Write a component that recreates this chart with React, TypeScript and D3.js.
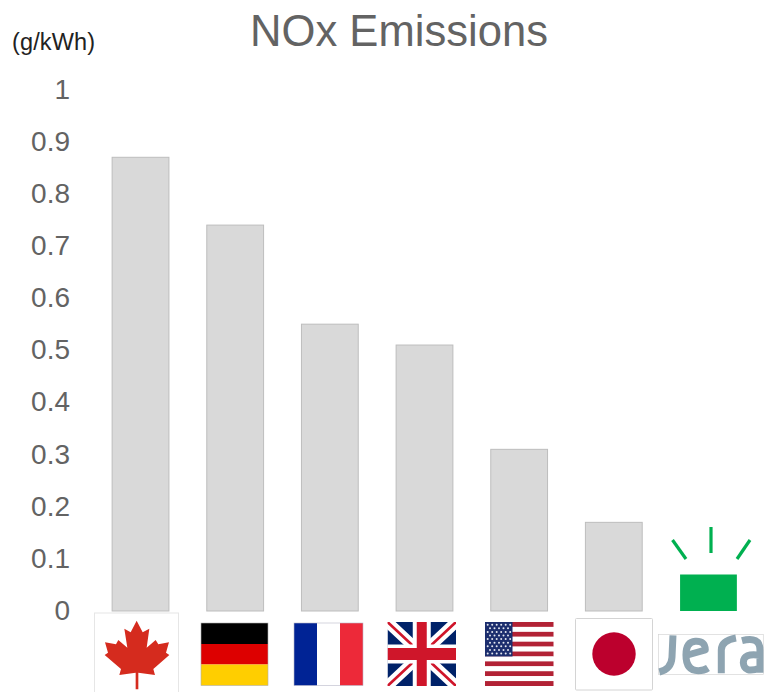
import React from "react";
import * as d3 from "d3";

const categories = ["Canada", "Germany", "France", "UK", "USA", "Japan", "JERA"];
const noxValues = [0.87, 0.74, 0.55, 0.51, 0.31, 0.17, 0.07];
const tickValues = [0, 0.1, 0.2, 0.3, 0.4, 0.5, 0.6, 0.7, 0.8, 0.9, 1];
const titleText = "NOx Emissions";
const unitText = "(g/kWh)";

const WIDTH = 767;
const HEIGHT = 692;
const GREY = "#d9d9d9";
const GREEN = "#00b050";
const TEXT_GREY = "#636363";
const FONT = "'Liberation Sans', Arial, sans-serif";

const mapleLeaf = [
  [140, 62], [158, 97], [178, 86], [170, 143], [197, 120], [205, 133], [237, 127], [228, 158], [238, 165],
  [190, 207], [195, 225], [145, 218], [145, 268], [137, 268], [137, 218], [88, 225], [93, 207], [44, 165],
  [54, 158], [45, 127], [78, 133], [85, 120], [112, 143], [103, 86], [122, 97],
];

const usStripes = d3.range(13);
const usStarRows = d3.range(9);

function Canada() {
  return (
    <g>
      <rect x={94.5} y={613} width={84} height={80} fill="#fff" stroke="#e6e6e6" />
      <polygon transform="translate(90,600) scale(0.3333)" points={mapleLeaf.join(" ")} fill="#d52b1e" />
    </g>
  );
}

function Germany() {
  return (
    <g>
      <rect x={201} y={623} width={67} height={21} fill="#000" />
      <rect x={201} y={644} width={67} height={20.5} fill="#dd0000" />
      <rect x={201} y={664.5} width={67} height={21} fill="#ffce00" />
      <rect x={201} y={623} width={67} height={62.5} fill="none" stroke="#b0b0b0" strokeWidth={0.6} />
    </g>
  );
}

function France() {
  return (
    <g>
      <rect x={294} y={623} width={23} height={62.5} fill="#002395" />
      <rect x={317} y={623} width={23} height={62.5} fill="#fff" />
      <rect x={340} y={623} width={23} height={62.5} fill="#ed2939" />
      <rect x={294} y={623} width={69} height={62.5} fill="none" stroke="#b8b8c8" strokeWidth={0.6} />
    </g>
  );
}

function UnitedKingdom() {
  const x0 = 387.5, y0 = 622, w = 68.5, h = 64;
  return (
    <g>
      <clipPath id="uk-clip"><rect x={x0} y={y0} width={w} height={h} /></clipPath>
      <g clipPath="url(#uk-clip)" filter="url(#flag-soften)">
        <rect x={x0} y={y0} width={w} height={h} fill="#012169" />
        <path d={`M${x0},${y0}L${x0 + w},${y0 + h}M${x0 + w},${y0}L${x0},${y0 + h}`} stroke="#fff" strokeWidth={11} />
        <path d={`M${x0},${y0}L${x0 + w},${y0 + h}M${x0 + w},${y0}L${x0},${y0 + h}`} stroke="#cf142b" strokeWidth={2.6} />
        <rect x={x0 + w / 2 - 9} y={y0} width={18} height={h} fill="#fff" />
        <rect x={x0} y={y0 + h / 2 - 9.5} width={w} height={19} fill="#fff" />
        <rect x={x0 + w / 2 - 5} y={y0} width={10} height={h} fill="#cf142b" />
        <rect x={x0} y={y0 + h / 2 - 6} width={w} height={12} fill="#cf142b" />
      </g>
    </g>
  );
}

function UnitedStates() {
  const x0 = 485, y0 = 622, w = 68.5, h = 64;
  const stripe = h / 13;
  return (
    <g filter="url(#flag-soften)">
      {usStripes.map((i) => (
        <rect key={i} x={x0} y={y0 + i * stripe} width={w} height={stripe} fill={i % 2 ? "#fff" : "#b22234"} />
      ))}
      <rect x={x0} y={y0} width={27.5} height={stripe * 7} fill="#1c2f6e" />
      {usStarRows.map((r) =>
        d3.range(r % 2 ? 5 : 6).map((c) => (
          <circle
            key={`${r}-${c}`}
            cx={x0 + (r % 2 ? 5 : 2.7) + c * 4.5}
            cy={y0 + 2.7 + r * 3.6}
            r={1}
            fill="#e4e7f0"
          />
        ))
      )}
    </g>
  );
}

function Japan() {
  return (
    <g>
      <rect x={575.5} y={618.5} width={77} height={71.5} rx={1} fill="#fff" stroke="#d4d4d4" />
      <circle cx={614} cy={654} r={21.7} fill="#bc002d" />
    </g>
  );
}

function JeraLogo() {
  return (
    <g transform="translate(370,600) scale(0.3333)">
      <rect x={866} y={103} width={314} height={121} fill="#fff" stroke="#d4d4d4" strokeWidth={2} />
      <g fill="none" stroke="#8ea4b1" strokeWidth={21} strokeLinecap="butt" strokeLinejoin="round" filter="url(#logo-soften)">
        <path d="M909,106 L906,172 Q904,207 868,216" />
        <path d="M942,168 L1006,150 Q1006,122 976,124 Q948,126 948,165 Q948,212 985,212 Q1002,212 1014,204" />
        <path d="M1054,220 L1054,150 Q1054,122 1098,114" />
        <path d="M1116,122 Q1170,108 1170,150 L1170,218 M1170,166 Q1120,158 1120,188 Q1122,222 1170,204" />
      </g>
    </g>
  );
}

function JeraLamp() {
  return (
    <g stroke={GREEN} strokeWidth={3.2} fill="none">
      <line x1={672.5} y1={540} x2={686} y2={559} />
      <line x1={711} y1={527} x2={711} y2={553} />
      <line x1={750} y1={540} x2={737} y2={559} />
    </g>
  );
}

export default function App() {
  const y = d3.scaleLinear().domain([0, 1]).range([611, 89.5]);
  const x = d3.scaleBand<string>().domain(categories).range([93.2, 755.8]).paddingInner(0.4).paddingOuter(0.2);

  return (
    <svg
      width={WIDTH}
      height={HEIGHT}
      viewBox={`0 0 ${WIDTH} ${HEIGHT}`}
      style={{ position: "absolute", left: 0, top: 0, background: "#fff" }}
    >
      <defs>
        <filter id="flag-soften" x="-5%" y="-5%" width="110%" height="110%">
          <feGaussianBlur stdDeviation="0.45" />
        </filter>
        <filter id="logo-soften" x="-5%" y="-5%" width="110%" height="110%">
          <feGaussianBlur stdDeviation="1.5" />
        </filter>
      </defs>

      <text x={399} y={46} textAnchor="middle" fontFamily={FONT} fontSize={43.6} fill={TEXT_GREY}>
        {titleText}
      </text>
      <text x={12} y={50} fontFamily={FONT} fontSize={23.5} fill="#222" textLength={83}>
        {unitText}
      </text>

      {tickValues.map((t) => (
        <text key={t} x={70} y={y(t) - 1} dy="0.36em" textAnchor="end" fontFamily={FONT} fontSize={28} fill={TEXT_GREY}>
          {d3.format("~g")(t)}
        </text>
      ))}

      {categories.map((c, i) => {
        const isJera = c === "JERA";
        return (
          <rect
            key={c}
            x={x(c)}
            y={y(noxValues[i])}
            width={x.bandwidth()}
            height={y(0) - y(noxValues[i])}
            fill={isJera ? GREEN : GREY}
            stroke={isJera ? "none" : "#bdbdbd"}
            strokeWidth={1}
          />
        );
      })}

      <JeraLamp />
      <Canada />
      <Germany />
      <France />
      <UnitedKingdom />
      <UnitedStates />
      <Japan />
      <JeraLogo />
    </svg>
  );
}
